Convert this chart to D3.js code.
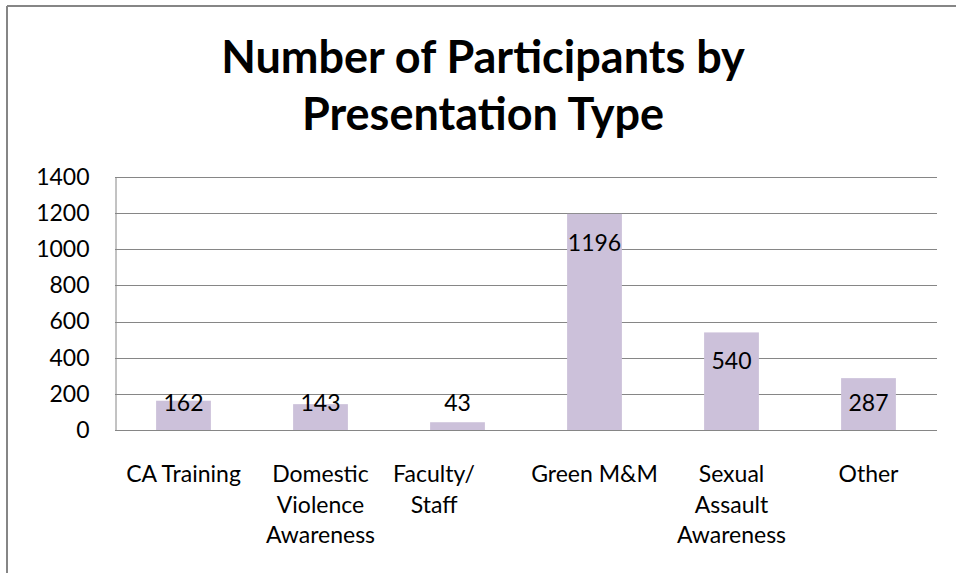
<!DOCTYPE html>
<html>
<head>
<meta charset="utf-8">
<script src="https://cdn.jsdelivr.net/npm/d3@7"></script>
<style>
  body { margin: 0; background: #fff; }
  text { font-family: Lato, "Open Sans", sans-serif; fill: #000; }
</style>
</head>
<body>
<div id="chart"></div>
<script>
// chart data
var categories = ['CA Training', 'Domestic Violence Awareness', 'Faculty/Staff',
                  'Green M&M', 'Sexual Assault Awareness', 'Other'];
// wrapped labels as excel shows them; the faculty one carries trailing blanks in the sheet
var categoryLines = [['CA Training'], ['Domestic', 'Violence', 'Awareness'],
                     ['Faculty/\u00a0\u00a0\u00a0\u00a0\u00a0\u00a0\u00a0\u00a0', 'Staff\u00a0\u00a0\u00a0\u00a0\u00a0\u00a0\u00a0\u00a0'],
                     ['Green M&M'], ['Sexual', 'Assault', 'Awareness'], ['Other']];
var participants = [162, 143, 43, 1196, 540, 287];
var yTicks = [0, 200, 400, 600, 800, 1000, 1200, 1400];
var titleLines = ['Number of Participants by', 'Presentation Type'];

var w = 956;
var h = 573;
var margin = {left: 115, right: 19, top: 177, bottom: 143};
var gridColor = '#868686';
var barColor = '#ccc1da';
var labelSize = '23px';

var svg = d3.select('#chart').append('svg')
  .attr('width', w)
  .attr('height', h);

// outer chart frame (only top and left edges show in the crop)
svg.append('line')
  .attr('x1', 7).attr('x2', w).attr('y1', 6).attr('y2', 6)
  .attr('stroke', gridColor).attr('stroke-width', 2);
svg.append('line')
  .attr('x1', 7).attr('x2', 7).attr('y1', 6).attr('y2', h)
  .attr('stroke', gridColor).attr('stroke-width', 2);

// title
svg.append('g')
  .selectAll('text')
  .data(titleLines)
  .enter().append('text')
  .attr('x', 483)
  .attr('y', function(d, i) { return 73 + i * 57; })
  .attr('text-anchor', 'middle')
  .style('font-size', '45px')
  .style('font-weight', 'bold')
  .text(function(d) { return d; });

var x = d3.scaleBand()
  .domain(categories)
  .range([margin.left, w - margin.right])
  .paddingInner(0.6)
  .paddingOuter(0.3);

var y = d3.scaleLinear()
  .domain([0, 1400])
  .range([h - margin.bottom, margin.top]);

// gridlines
svg.append('g')
  .attr('class', 'grid')
  .selectAll('line')
  .data(yTicks)
  .enter().append('line')
  .attr('x1', margin.left)
  .attr('x2', w - margin.right)
  .attr('y1', function(d) { return Math.round(y(d)) + 0.5; })
  .attr('y2', function(d) { return Math.round(y(d)) + 0.5; })
  .attr('stroke', gridColor);

// y axis
var yAxis = svg.append('g')
  .attr('transform', 'translate(' + (margin.left + 0.5) + ',0)')
  .call(d3.axisLeft(y).tickValues(yTicks).tickFormat(d3.format('d'))
    .tickSize(0).tickPadding(26));
yAxis.select('.domain').attr('stroke', gridColor);
yAxis.selectAll('text')
  .style('font-size', labelSize)
  .attr('fill', '#000');

// bars
svg.append('g')
  .selectAll('rect')
  .data(participants)
  .enter().append('rect')
  .attr('x', function(d, i) { return x(categories[i]); })
  .attr('y', function(d) { return y(d); })
  .attr('width', x.bandwidth())
  .attr('height', function(d) { return y(0) - y(d); })
  .attr('fill', barColor);

// value labels, inside the end of each bar
svg.append('g')
  .selectAll('text')
  .data(participants)
  .enter().append('text')
  .attr('x', function(d, i) { return x(categories[i]) + x.bandwidth() / 2; })
  .attr('y', function(d) { return Math.min(y(d) + 37, y(0) - 19); })
  .attr('text-anchor', 'middle')
  .style('font-size', labelSize)
  .text(function(d) { return d; });

// category labels
var catLabel = svg.append('g')
  .selectAll('text')
  .data(categoryLines)
  .enter().append('text')
  .attr('text-anchor', 'middle')
  .style('font-size', labelSize);

catLabel.selectAll('tspan')
  .data(function(d, i) { return d.map(function(line) { return {line: line, cat: categories[i]}; }); })
  .enter().append('tspan')
  .attr('x', function(d) { return x(d.cat) + x.bandwidth() / 2; })
  .attr('y', function(d, j) { return 482 + j * 30.5; })
  .text(function(d) { return d.line; });

// bottom axis line drawn last so bars sit on it
svg.append('line')
  .attr('x1', margin.left)
  .attr('x2', w - margin.right)
  .attr('y1', Math.round(y(0)) + 0.5)
  .attr('y2', Math.round(y(0)) + 0.5)
  .attr('stroke', gridColor);
</script>
</body>
</html>
